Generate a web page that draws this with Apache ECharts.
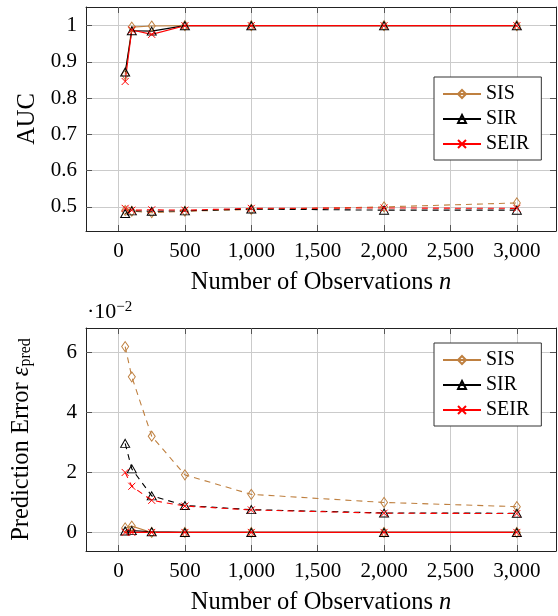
<!DOCTYPE html>
<html>
<head>
<meta charset="utf-8">
<script src="https://cdn.jsdelivr.net/npm/echarts@6/dist/echarts.min.js"></script>
<style>
    html, body { margin: 0; padding: 0; background: #fff; }
    #main { width: 558px; height: 616px; }
</style>
</head>
<body>
<div id="main"></div>
<script>
// 横轴: 观测数 n
var obsN = [50, 100, 250, 500, 1000, 2000, 3000];
var xTicks = [0, 500, 1000, 1500, 2000, 2500, 3000];
var aucTicks = [0.5, 0.6, 0.7, 0.8, 0.9, 1];
var errTicks = [0, 2, 4, 6];

// 上图 AUC (实线 / 虚线)
var aucSis = [0.865, 0.996, 0.999, 1.0, 1.0, 1.0, 1.0];
var aucSir = [0.872, 0.986, 0.985, 1.0, 1.0, 1.0, 1.0];
var aucSeir = [0.846, 0.988, 0.976, 1.0, 1.0, 1.0, 1.0];
var aucSisDash = [0.490, 0.488, 0.484, 0.488, 0.493, 0.500, 0.511];
var aucSirDash = [0.482, 0.489, 0.488, 0.489, 0.494, 0.491, 0.491];
var aucSeirDash = [0.496, 0.491, 0.492, 0.491, 0.496, 0.497, 0.496];

// 下图 预测误差 (单位 1e-2)
var errSis = [0.15, 0.21, 0.0, 0.0, 0.0, 0.0, 0.0];
var errSir = [0.05, 0.06, 0.02, 0.0, 0.0, 0.0, 0.0];
var errSeir = [0.0, 0.0, 0.0, 0.0, 0.0, 0.0, 0.0];
var errSisDash = [6.2, 5.19, 3.21, 1.92, 1.27, 1.0, 0.86];
var errSirDash = [2.97, 2.12, 1.22, 0.9, 0.76, 0.65, 0.64];
var errSeirDash = [2.0, 1.54, 1.07, 0.88, 0.75, 0.64, 0.63];

var FONT = "Liberation Serif";
var C_SIS = "#bf8040", C_SIR = "#000000", C_SEIR = "#ff0000";
var X_CROSS = "path://M0,0L10,10M10,0L0,10";
var NAME_SIZE = 24.5;

var chart = echarts.init(document.getElementById("main"), null, {renderer: "canvas"});

function pairs(ys) {
    return obsN.map(function (x, i) { return [x, ys[i]]; });
}

// 衬线字体的富文本样式
function serif(size, extra) {
    return Object.assign({fontFamily: FONT, fontSize: size, color: "#000"}, extra || {});
}

// 线条 + 空心标记
function makeSeries(name, ys, color, symbol, size, dashed, idx) {
    return {
        name: name,
        type: "line",
        xAxisIndex: idx * 2,
        yAxisIndex: idx * 2,
        data: pairs(ys),
        symbol: symbol,
        symbolSize: size,
        showAllSymbol: true,
        lineStyle: {color: color, width: 1.1, type: dashed ? [6, 5] : "solid"},
        itemStyle: {color: "rgba(0,0,0,0)", borderColor: color, borderWidth: 1},
        emphasis: {disabled: true},
        animation: false
    };
}

function groupSeries(idx, sis, sir, seir, sisD, sirD, seirD) {
    return [
        makeSeries("SIS d", sisD, C_SIS, "diamond", [7, 10], true, idx),
        makeSeries("SIR d", sirD, C_SIR, "triangle", [9, 8], true, idx),
        makeSeries("SEIR d", seirD, C_SEIR, X_CROSS, [7, 7], true, idx),
        makeSeries("SIS", sis, C_SIS, "diamond", [7, 10], false, idx),
        makeSeries("SIR", sir, C_SIR, "triangle", [9, 8], false, idx),
        makeSeries("SEIR", seir, C_SEIR, X_CROSS, [7, 7], false, idx)
    ];
}

function xAxes(gridIdx) {
    var base = {
        gridIndex: gridIdx,
        type: "value",
        min: -245,
        max: 3295,
        axisLine: {show: true, onZero: false, lineStyle: {color: "#222", width: 1}},
        axisTick: {show: true, inside: true, length: 6, customValues: xTicks, lineStyle: {color: "#555"}}
    };
    var bottom = Object.assign({}, base, {
        position: "bottom",
        name: "{t|Number of Observations }{i|n}",
        nameLocation: "middle",
        nameGap: 39,
        nameTextStyle: serif(NAME_SIZE, {rich: {t: serif(NAME_SIZE), i: serif(NAME_SIZE, {fontStyle: "italic"})}}),
        axisLabel: {
            customValues: xTicks,
            margin: 10,
            rich: {t: serif(21)},
            formatter: function (v) { return "{t|" + Number(v).toLocaleString("en-US") + "}"; }
        },
        splitLine: {show: true, lineStyle: {color: "#cbcbcb", width: 1}}
    });
    var top = Object.assign({}, base, {
        position: "top",
        axisLabel: {show: false},
        splitLine: {show: false}
    });
    return [bottom, top];
}

function yAxes(gridIdx, min, max, ticks, name, nameGap, fmt) {
    var base = {
        gridIndex: gridIdx,
        type: "value",
        min: min,
        max: max,
        axisLine: {show: true, onZero: false, lineStyle: {color: "#222", width: 1}},
        axisTick: {show: true, inside: true, length: 6, customValues: ticks, lineStyle: {color: "#555"}}
    };
    var left = Object.assign({}, base, {
        position: "left",
        name: name,
        nameLocation: "middle",
        nameGap: nameGap,
        nameRotate: 90,
        nameTextStyle: serif(NAME_SIZE, {lineHeight: 25, rich: {
            t: serif(NAME_SIZE, {lineHeight: 25}),
            e: serif(NAME_SIZE, {fontStyle: "italic", lineHeight: 25}),
            sub: serif(16, {lineHeight: 10, verticalAlign: "bottom"})
        }}),
        axisLabel: {
            customValues: ticks,
            margin: 9,
            rich: {t: serif(21)},
            formatter: function (v) { return "{t|" + fmt(v) + "}"; }
        },
        splitLine: {show: true, lineStyle: {color: "#cbcbcb", width: 1}}
    });
    var right = Object.assign({}, base, {
        position: "right",
        axisLabel: {show: false},
        splitLine: {show: false}
    });
    return [left, right];
}

function legendAt(top) {
    return {
        data: ["SIS", "SIR", "SEIR"],
        orient: "vertical",
        left: 434,
        top: top,
        padding: [7, 12, 6, 8],
        itemWidth: 38,
        itemHeight: 10,
        itemGap: 5,
        selectedMode: false,
        backgroundColor: "#fff",
        borderColor: "#333",
        borderWidth: 1,
        borderRadius: 0,
        formatter: function (name) { return "{t|" + name + "}"; },
        textStyle: serif(20, {rich: {t: serif(20)}})
    };
}

var option = {
    animation: false,
    backgroundColor: "#fff",
    textStyle: {fontFamily: FONT},
    grid: [
        {left: 86, top: 7, width: 470, height: 224},
        {left: 86, top: 328, width: 470, height: 225}
    ],
    xAxis: xAxes(0).concat(xAxes(1)),
    yAxis: yAxes(0, 0.4335, 1.0515, aucTicks, "{t|AUC}", 41, function (v) {
        return String(Number(v.toFixed(1)));
    }).concat(yAxes(1, -0.62, 6.82, errTicks, "{t|Prediction Error }{e|ε}{sub|pred}", 52, function (v) {
        return String(Math.round(v));
    })),
    legend: [legendAt(77), legendAt(343)],
    graphic: [{
        type: "text",
        left: 87,
        top: 300,
        style: {
            text: "{t|·10}{sup|−2}",
            fontFamily: FONT,
            fontSize: 22,
            lineHeight: 24,
            fill: "#000",
            rich: {
                t: {fontFamily: FONT, fontSize: 22, lineHeight: 24, fill: "#000"},
                sup: {fontFamily: FONT, fontSize: 15, lineHeight: 10, verticalAlign: "top", fill: "#000"}
            }
        }
    }],
    series: groupSeries(0, aucSis, aucSir, aucSeir, aucSisDash, aucSirDash, aucSeirDash)
        .concat(groupSeries(1, errSis, errSir, errSeir, errSisDash, errSirDash, errSeirDash))
};

chart.setOption(option);
</script>
</body>
</html>
